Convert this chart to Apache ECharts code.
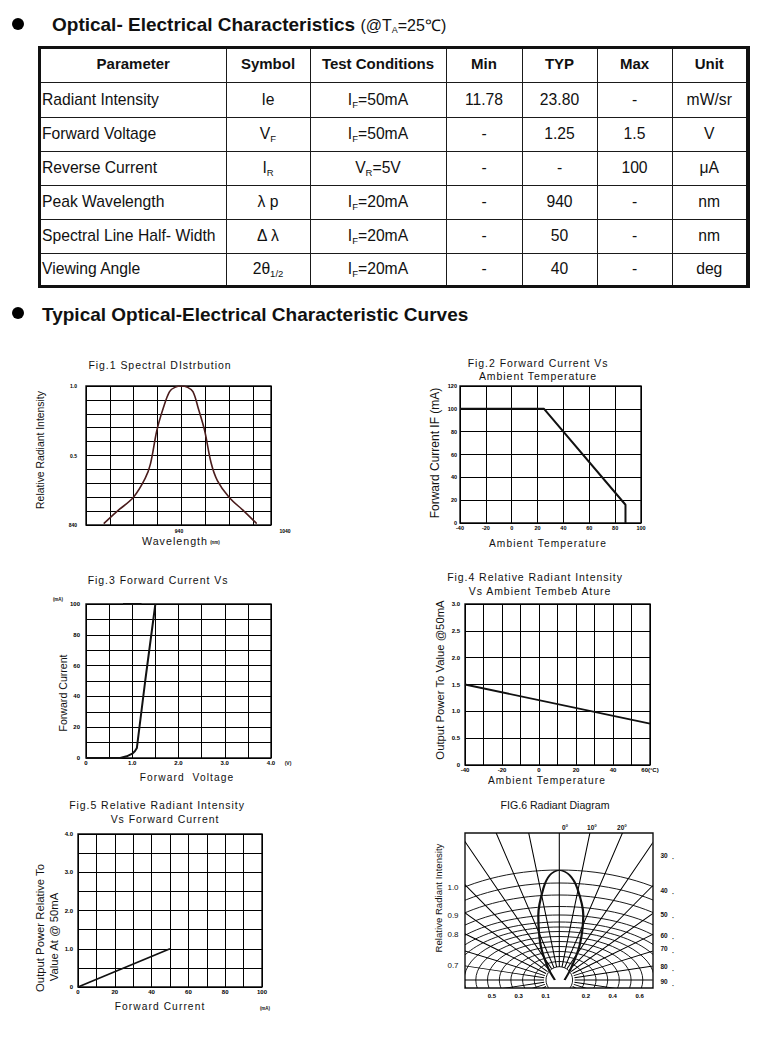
<!DOCTYPE html>
<html>
<head>
<meta charset="utf-8">
<script src="https://cdn.jsdelivr.net/npm/echarts@6.0.0/dist/echarts.min.js"></script>
<style>
html,body{margin:0;padding:0;background:#fff;}
body{width:760px;height:1037px;position:relative;overflow:hidden;font-family:"Liberation Sans",Arial,sans-serif;color:#111;}
#main{position:absolute;left:0;top:0;width:760px;height:1037px;}
#main text{white-space:pre;}
#main text[style*="10.5px"]{letter-spacing:0.95px;}
#main text[style*="10.2px"]{letter-spacing:1.1px;}
#main text[style*="10.7px"]{letter-spacing:1.0px;}
.f6{position:absolute;left:465px;top:833px;height:155px;overflow:hidden;transform-origin:0 0;}
.dot{position:absolute;left:12px;width:12px;height:12px;border-radius:50%;background:#000;}
.hd{position:absolute;left:52px;font-size:19px;font-weight:bold;line-height:19px;white-space:nowrap;color:#111;}
.hd span{font-weight:normal;font-size:16px;}
.hd sub{font-size:9px;vertical-align:-2px;line-height:0;}
#tbox{position:absolute;left:38px;top:46px;width:705px;border:3px solid #111;border-right-width:4px;}
#tbl{border-collapse:collapse;table-layout:fixed;width:705px;border-style:hidden;}
#tbl td{border:1px solid #1a1a1a;padding:0;text-align:center;font-size:15.7px;white-space:nowrap;overflow:hidden;color:#111;}
#tbl tr.h td{font-weight:bold;font-size:15px;padding-bottom:3px;}
#tbl td.p{text-align:left;padding-left:1px;}
#tbl sub{font-size:9.5px;vertical-align:-3px;line-height:0;}
</style>
</head>
<body>
<div id="main"></div>
<div class="dot" style="top:18px"></div>
<div class="hd" style="top:15px">Optical- Electrical Characteristics <span>(@T<sub>A</sub>=25℃)</span></div>
<div id="tbox"><table id="tbl"></table></div>
<div class="dot" style="top:307px"></div>
<div class="hd" style="left:42px;top:305px">Typical Optical-Electrical Characteristic Curves</div>
<div id="f6e" class="f6"></div>
<div id="f6r" class="f6"></div>
<div id="f6c" class="f6"></div>
<script>
// ================= DATA =================
const tableHeader = ['Parameter','Symbol','Test Conditions','Min','TYP','Max','Unit'];
const tableParams = ['Radiant Intensity','Forward Voltage','Reverse Current','Peak Wavelength','Spectral Line Half- Width','Viewing Angle'];
const tableSymbols = ['Ie','V<sub>F</sub>','I<sub>R</sub>','λ p','Δ λ','2θ<sub>1/2</sub>'];
const tableConditions = ['I<sub>F</sub>=50mA','I<sub>F</sub>=50mA','V<sub>R</sub>=5V','I<sub>F</sub>=20mA','I<sub>F</sub>=20mA','I<sub>F</sub>=20mA'];
const tableMin = ['11.78','-','-','-','-','-'];
const tableTyp = ['23.80','1.25','-','940','50','40'];
const tableMax = ['-','1.5','100','-','-','-'];
const tableUnit = ['mW/sr','V','μA','nm','nm','deg'];

// Fig.1 Spectral distribution
const fig1Wavelength = [869, 881, 897, 908, 913, 919, 925, 931, 936, 942, 948, 953, 958, 964, 970, 976, 987, 1001, 1013];
const fig1Intensity  = [0.01, 0.095, 0.2, 0.335, 0.44, 0.68, 0.84, 0.96, 0.99, 1.0, 0.99, 0.96, 0.84, 0.68, 0.45, 0.32, 0.2, 0.1, 0.01];
const fig1YTickValues = [0, 0.5, 1.0];
const fig1YTickText = ['840', '0.5', '1.0'];
const fig1XTickValues = [940, 1040];
const fig1XTickText = ['940', '1040'];

// Fig.2 Forward current vs ambient temperature
const fig2Temp = [-40, 25, 88, 88];
const fig2Current = [100, 100, 16, 0];

// Fig.3 Forward current vs forward voltage
const fig3Voltage = [0, 0.74, 0.88, 1.0, 1.06, 1.1, 1.28, 1.5];
const fig3Current = [0, 0, 1.1, 2.8, 4.5, 6.5, 50, 100];
const fig3MarkVoltage = [0.8, 1.2];
const fig3MarkCurrent = [100, 100];
const fig3XTickValues = [0, 1, 2, 3, 4];
const fig3XTickText = ['0', '1.0', '2.0', '3.0', '4.0'];
const fig3YTickValues = [0, 20, 40, 60, 80, 100];
const fig3YTickText = ['0', '20', '40', '60', '80', '100'];

// Fig.4 Relative radiant intensity vs ambient temperature
const fig4Temp = [-40, 60];
const fig4Power = [1.5, 0.77];
const fig4XTickValues = [-40, -20, 0, 20, 40, 60];
const fig4XTickText = ['-40', '-20', '0', '20', '40', '60(°C)'];
const fig4YTickValues = [0, 0.5, 1, 1.5, 2, 2.5, 3];
const fig4YTickText = ['0', '0.5', '1.0', '1.5', '2.0', '2.5', '3.0'];

// Fig.5 Relative radiant intensity vs forward current
const fig5Current = [0, 50];
const fig5Power = [0, 1.0];
const fig5XTickValues = [0, 20, 40, 60, 80, 100];
const fig5XTickText = ['0', '20', '40', '60', '80', '100'];
const fig5YTickValues = [0, 1, 2, 3, 4];
const fig5YTickText = ['0', '1.0', '2.0', '3.0', '4.0'];

// Fig.6 Radiant diagram (angle from axis in degrees, relative intensity)
const fig6LobeAngle = [-90, -30.5, -18.5, -11.4, -6.2, -3.2, 0, 3.5, 7, 13, 20, 32, 90];
const fig6LobeIntensity = [0.025, 0.124, 0.335, 0.603, 0.838, 0.956, 1.0, 0.956, 0.84, 0.606, 0.34, 0.125, 0.03];
const fig6BottomTickValues = [-0.5, -0.3, -0.1, 0.2, 0.4, 0.6];
const fig6BottomTickText = ['0.5', '0.3', '0.1', '0.2', '0.4', '0.6'];
const fig6LeftLabels = ['1.0', '0.9', '0.8', '0.7'];
const fig6TopAngleLabels = ['0°', '10°', '20°'];
const fig6SideAngleLabels = ['30', '40', '50', '60', '70', '80', '90'];

// ================= TABLE =================
(function(){
  const rowH = [33, 35, 34, 34, 34, 34, 32];
  const colW = [185, 84, 136, 76, 75, 75, 74];
  let h = '<colgroup>' + colW.map(w => '<col style="width:' + w + 'px">').join('') + '</colgroup>';
  h += '<tr class="h" style="height:' + rowH[0] + 'px">' + tableHeader.map(t => '<td>' + t + '</td>').join('') + '</tr>';
  for (let i = 0; i < tableParams.length; i++) {
    h += '<tr style="height:' + rowH[i + 1] + 'px"><td class="p">' + tableParams[i] + '</td><td>' + tableSymbols[i] +
      '</td><td>' + tableConditions[i] + '</td><td>' + tableMin[i] + '</td><td>' + tableTyp[i] +
      '</td><td>' + tableMax[i] + '</td><td>' + tableUnit[i] + '</td></tr>';
  }
  document.getElementById('tbl').innerHTML = h;
})();

// ================= CHARTS =================
const FONT = '"Liberation Sans", Arial, sans-serif';
const zip = (a, b) => a.map((v, i) => [v, b[i]]);
function lk(vals, texts) {
  return v => { for (let i = 0; i < vals.length; i++) { if (Math.abs(v - vals[i]) < 1e-6) return texts[i]; } return ''; };
}
function ax(gi, min, max, interval, fmt, lab, split) {
  return {
    type: 'value', gridIndex: gi, min: min, max: max, interval: interval,
    axisLine: {show: false}, axisTick: {show: false},
    splitLine: {show: split !== false, lineStyle: {color: '#000', width: 1}},
    axisLabel: Object.assign({formatter: fmt, fontSize: 6, fontWeight: 'bold', color: '#000', fontFamily: FONT,
      margin: 2, showMinLabel: true, showMaxLabel: true}, lab || {})
  };
}
function T(x, y, text, size, o) {
  o = o || {};
  return {
    type: 'text', x: x, y: y, rotation: o.rot ? Math.PI / 2 : 0, z: 50, silent: true,
    style: {text: text, fontSize: size, fontFamily: FONT, fontWeight: o.bold ? 'bold' : 'normal', fill: '#111',
      textAlign: o.align || 'center', textVerticalAlign: 'middle', align: o.align || 'center', verticalAlign: 'middle'}
  };
}

const grids = [
  {left: 86, top: 386, width: 185, height: 139},   // fig1
  {left: 73, top: 386, width: 212, height: 139},   // fig1 wavelength labels
  {left: 460, top: 386, width: 181, height: 137},  // fig2
  {left: 86, top: 604, width: 185, height: 154},   // fig3
  {left: 465, top: 604, width: 185, height: 161},  // fig4
  {left: 78, top: 834, width: 184, height: 153},   // fig5
  {left: 465, top: 833, width: 188, height: 155}   // fig6 frame
];

const xAxes = [
  ax(0, 852.3, 1026.5, 22.45, () => '', {show: false}),
  ax(1, 840, 1040, 100, lk(fig1XTickValues, fig1XTickText), {fontSize: 5, margin: 3}, false),
  ax(2, -40, 100, 20, v => String(v), {fontSize: 5.5, margin: 2}),
  ax(3, 0, 4, 0.5, lk(fig3XTickValues, fig3XTickText), {margin: 2}),
  ax(4, -40, 60, 10, lk(fig4XTickValues, fig4XTickText), {margin: 2}),
  ax(5, 0, 100, 10, lk(fig5XTickValues, fig5XTickText), {margin: 2}),
  ax(6, -0.7, 0.7, 0.1, lk(fig6BottomTickValues, fig6BottomTickText), {margin: 5}, false)
];
const yAxes = [
  ax(0, 0, 1, 0.1, lk(fig1YTickValues, fig1YTickText), {fontSize: 5, margin: 9}),
  Object.assign(ax(1, 0, 1, 1, () => ''), {show: false}),
  ax(2, 0, 120, 20, v => String(v), {fontSize: 5.5, margin: 3}),
  ax(3, 0, 100, 10, lk(fig3YTickValues, fig3YTickText), {margin: 6}),
  ax(4, 0, 3, 0.5, lk(fig4YTickValues, fig4YTickText), {margin: 5}),
  ax(5, 0, 4, 0.5, lk(fig5YTickValues, fig5YTickText), {margin: 5}),
  Object.assign(ax(6, 0, 1, 1, () => ''), {show: false})
];

function lineSeries(idx, data, color, width, smooth) {
  return {type: 'line', xAxisIndex: idx, yAxisIndex: idx, data: data, symbol: 'none', smooth: smooth || false,
    lineStyle: {color: color, width: width}, z: 5, silent: true};
}

const texts = [
  // fig1
  T(160, 365, 'Fig.1 Spectral DIstrbution', 10.5),
  T(40, 450, 'Relative Radiant Intensity', 10.4, {rot: true}),
  T(175, 541, 'Wavelength', 10.7),
  T(215, 542, '(nm)', 4.5, {bold: true}),
  // fig2
  T(538, 363, 'Fig.2 Forward Current Vs', 10.5),
  T(538, 375.5, 'Ambient Temperature', 10.5),
  T(435, 453, 'Forward Current IF (mA)', 12, {rot: true}),
  T(548, 543, 'Ambient Temperature', 10.2),
  // fig3
  T(158, 580, 'Fig.3 Forward Current Vs', 10.5),
  T(58, 599, '(mA)', 4.5, {bold: true}),
  T(63, 693, 'Forward Current', 10.6, {rot: true}),
  T(187, 777, 'Forward  Voltage', 10.2),
  T(288, 763, '(V)', 5, {bold: true}),
  // fig4
  T(535, 577, 'Fig.4 Relative Radiant Intensity', 10.5),
  T(540, 591, 'Vs Ambient Tembeb Ature', 10.5),
  T(440, 680, 'Output Power To Value @50mA', 11.3, {rot: true}),
  T(547, 780, 'Ambient Temperature', 10.2),
  // fig5
  T(157, 805, 'Fig.5 Relative Radiant Intensity', 10.5),
  T(165, 819, 'Vs Forward Current', 10.5),
  T(40, 928, 'Output Power Relative To', 11.3, {rot: true}),
  T(53.5, 937, 'Value At @ 50mA', 11.3, {rot: true}),
  T(160, 1006, 'Forward Current', 10.2),
  T(265, 1008, '(mA)', 4.5, {bold: true}),
  // fig6
  T(555, 805, 'FIG.6 Radiant Diagram', 10.6),
  T(438, 898, 'Relative Radiant Intensity', 9.6, {rot: true})
];
const f6LeftY = [887.7, 915, 934.3, 965];
fig6LeftLabels.forEach((t, i) => texts.push(T(453, f6LeftY[i], t, 8)));
const f6TopX = [565, 592, 622];
fig6TopAngleLabels.forEach((t, i) => texts.push(T(f6TopX[i], 827, t, 6.5, {bold: true})));
const f6SideY = [855, 890, 914, 935, 948.5, 966.5, 981.5];
fig6SideAngleLabels.forEach((t, i) => {
  texts.push(T(664, f6SideY[i], t, 6.5, {bold: true}));
  texts.push(T(673, f6SideY[i] + 3.5, '•', 4, {bold: true}));
});

const chart = echarts.init(document.getElementById('main'), null, {renderer: 'svg', width: 760, height: 1037});
chart.setOption({
  animation: false,
  backgroundColor: 'transparent',
  grid: grids.map((g, i) => Object.assign({show: i !== 1, borderColor: '#111', borderWidth: 1.4, containLabel: false}, g)),
  xAxis: xAxes,
  yAxis: yAxes,
  series: [
    lineSeries(0, zip(fig1Wavelength, fig1Intensity), '#4a1c1c', 1.6, 0.35),
    lineSeries(2, zip(fig2Temp, fig2Current), '#111', 2),
    lineSeries(3, zip(fig3Voltage, fig3Current), '#111', 2),
    lineSeries(3, zip(fig3MarkVoltage, fig3MarkCurrent), '#111', 2),
    lineSeries(4, zip(fig4Temp, fig4Power), '#111', 1.8),
    lineSeries(5, zip(fig5Current, fig5Power), '#111', 1.8)
  ],
  graphic: {elements: texts}
});

// ---- Fig.6 polar diagram, drawn in layers clipped to the frame ----
const F6W = 188, F6H = 155, F6CX = 94.3, F6CY = 147, F6R = 110;
const SX_LOBE = 1.6, SX_RAD = 1.18;
// layout of the diagram's iso-intensity rings (half width / half height in px)
const F6_RING_RX = [13.3, 25, 36.7, 48.4, 60, 71.8, 83.5, 95.2, 107, 118.6, 130, 142, 154, 165.7, 177.4];
const F6_RING_RY = [13.3, 18.5, 23.5, 28.5, 33.5, 38.5, 43.5, 48.5, 53, 58, 65, 73.5, 85, 97, 110];
function setupDiv(id, sx) {
  const d = document.getElementById(id);
  d.style.width = (F6W / sx) + 'px';
  if (sx !== 1) d.style.transform = 'scaleX(' + sx + ')';
  return d;
}
const rings = echarts.init(setupDiv('f6e', 1), null, {renderer: 'svg'});
rings.setOption({
  animation: false,
  graphic: {elements: F6_RING_RX.map((rx, i) => ({
    type: 'ellipse', silent: true,
    shape: {cx: F6CX, cy: F6CY, rx: rx, ry: F6_RING_RY[i]},
    style: {fill: 'none', stroke: '#000', lineWidth: 0.9}
  }))}
});
const rad = echarts.init(setupDiv('f6r', SX_RAD), null, {renderer: 'svg'});
rad.setOption({
  animation: false,
  polar: {center: [F6CX / SX_RAD, F6CY], radius: [13, 260]},
  angleAxis: {type: 'value', min: -180, max: 180, startAngle: 270, clockwise: true, interval: 10,
    axisLine: {show: false}, axisTick: {show: false}, axisLabel: {show: false},
    splitLine: {show: true, lineStyle: {color: '#000', width: 0.9}}},
  radiusAxis: {type: 'value', min: 0, max: 1, show: true, axisLine: {show: false}, axisTick: {show: false},
    axisLabel: {show: false}, splitLine: {show: false}},
  series: [{type: 'line', coordinateSystem: 'polar', data: [], symbol: 'none'}]
});
const lobe = echarts.init(setupDiv('f6c', SX_LOBE), null, {renderer: 'svg'});
lobe.setOption({
  animation: false,
  polar: {center: [F6CX / SX_LOBE, F6CY], radius: F6R},
  angleAxis: {type: 'value', min: -180, max: 180, startAngle: 270, clockwise: true, interval: 10,
    axisLine: {show: false}, axisTick: {show: false}, axisLabel: {show: false}, splitLine: {show: false}},
  radiusAxis: {type: 'value', min: 0, max: 1, interval: 0.1, axisLine: {show: false}, axisTick: {show: false},
    axisLabel: {show: false}, splitLine: {show: false}},
  series: [{type: 'line', coordinateSystem: 'polar', data: zip(fig6LobeIntensity, fig6LobeAngle), symbol: 'none',
    smooth: 0.3, lineStyle: {color: '#111', width: 1.4}, z: 10, silent: true}]
});
</script>
</body>
</html>
